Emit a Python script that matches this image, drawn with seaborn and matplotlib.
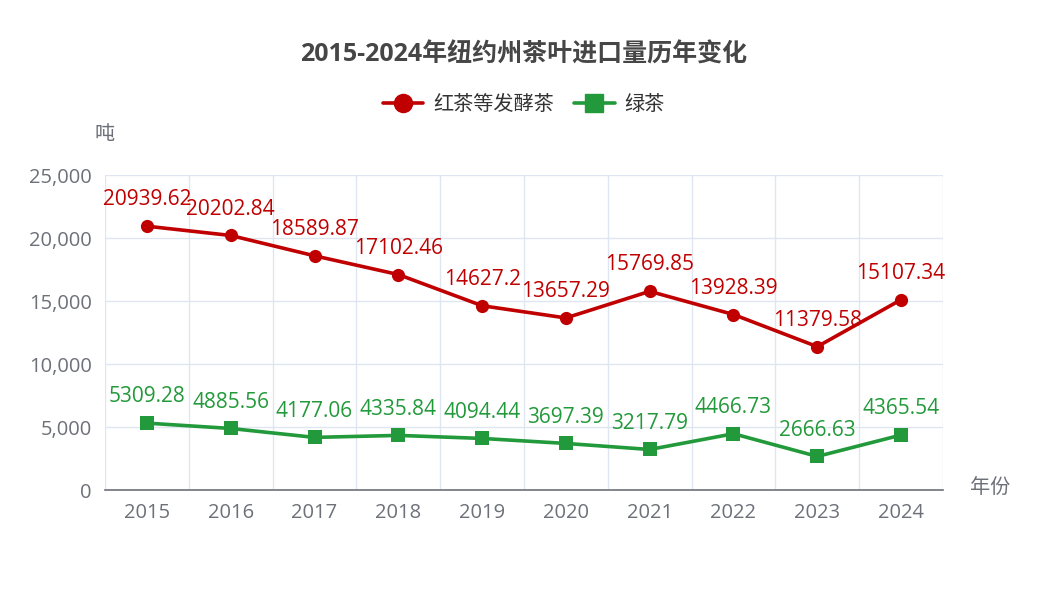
import matplotlib.pyplot as plt
import numpy as np
import pandas as pd
import seaborn as sns
from matplotlib.lines import Line2D
from matplotlib.ticker import FuncFormatter, MultipleLocator

years = ["2015", "2016", "2017", "2018", "2019", "2020", "2021", "2022", "2023", "2024"]
black_tea = [20939.62, 20202.84, 18589.87, 17102.46, 14627.2, 13657.29, 15769.85, 13928.39, 11379.58, 15107.34]
green_tea = [5309.28, 4885.56, 4177.06, 4335.84, 4094.44, 3697.39, 3217.79, 4466.73, 2666.63, 4365.54]
series_names = ["红茶等发酵茶", "绿茶"]

RED = "#C00000"
GREEN = "#22993A"
GRID = "#E0E6F1"
AXIS = "#6E7079"
TEXT = "#6E7079"

sns.set_style("white")
plt.rcParams["font.family"] = ["Open Sans", "Noto Sans CJK SC", "DejaVu Sans"]

df = pd.DataFrame({
    "pos": list(range(len(years))) * 2,
    "value": black_tea + green_tea,
    "series": [series_names[0]] * len(years) + [series_names[1]] * len(years),
})

fig = plt.figure(figsize=(10.48, 6.12), dpi=100)
ax = fig.add_axes([0.1002, 0.1993, 0.7996, 0.5147])

palette = {series_names[0]: RED, series_names[1]: GREEN}
markers = {series_names[0]: "o", series_names[1]: "s"}
sns.lineplot(data=df, x="pos", y="value", hue="series", style="series",
             palette=palette, markers=markers, dashes=False, linewidth=2.6,
             markersize=9.5, markeredgewidth=0, legend=False, ax=ax, zorder=3)

for vals, col in [(black_tea, RED), (green_tea, GREEN)]:
    for i, v in enumerate(vals):
        ax.annotate(str(v), (i, v), xytext=(0, 19), textcoords="offset points",
                    ha="center", va="center", color=col, fontsize=15, zorder=4)

ax.set_xlim(-0.5, len(years) - 0.5)
ax.set_ylim(0, 25000)
ax.set_xticks(range(len(years)))
ax.set_xticklabels(years)
ax.set_xticks(np.arange(-0.5, len(years), 1), minor=True)
ax.yaxis.set_major_locator(MultipleLocator(5000))
ax.yaxis.set_major_formatter(FuncFormatter(lambda v, p: f"{int(v):,}"))

ax.grid(True, axis="y", color=GRID, linewidth=1)
ax.grid(True, axis="x", which="minor", color=GRID, linewidth=1)
ax.grid(False, axis="x", which="major")
ax.set_axisbelow(True)

for s in ["top", "right", "left"]:
    ax.spines[s].set_visible(False)
ax.spines["bottom"].set_color(AXIS)
ax.spines["bottom"].set_linewidth(1.2)

ax.tick_params(axis="x", which="major", length=0, pad=9, labelsize=14.5, labelcolor=TEXT)
ax.tick_params(axis="x", which="minor", length=4.5, color=AXIS, width=1)
ax.tick_params(axis="y", length=4.5, color=AXIS, width=1, pad=5, labelsize=14.5, labelcolor=TEXT)
ax.set_xlabel("")
ax.set_ylabel("")

fig.text(0.1002, 0.779, "吨", ha="center", va="center", fontsize=14.5, color=TEXT)
fig.text(0.945, 0.203, "年份", ha="center", va="center", fontsize=14.5, color=TEXT)

fig.suptitle("2015-2024年纽约州茶叶进口量历年变化", x=0.5, y=0.91, fontsize=18,
             fontweight="bold", color="#464646", va="center")

handles = [
    Line2D([0], [0], color=RED, lw=2.6, marker="o", markersize=13),
    Line2D([0], [0], color=GREEN, lw=2.6, marker="s", markersize=13),
]
fig.legend(handles, series_names, loc="center", bbox_to_anchor=(0.5, 0.828), ncol=2,
           frameon=False, fontsize=14.5, labelcolor="#333333", handlelength=2.0,
           columnspacing=1.0, handletextpad=0.5)

fig.savefig("out.png", dpi=100)
